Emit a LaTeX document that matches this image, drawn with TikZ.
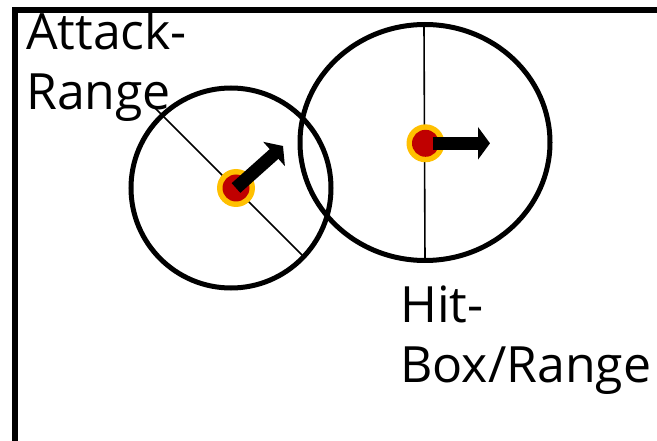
\documentclass[tikz,border=0pt]{standalone}
\usepackage{fontspec}
\setmainfont{Open Sans}
\usetikzlibrary{arrows.meta}
\definecolor{dotred}{HTML}{C00000}
\definecolor{dotring}{HTML}{FFC000}
\begin{document}
\begin{tikzpicture}[x=1pt,y=-1pt,
  framestyle/.style={line width=6pt},
  rangering/.style={line width=5pt},
  diamline/.style={line width=1.6pt},
  facearrow/.style={line width=13pt,-{Triangle[length=12pt,width=32pt]}},
  lblstyle/.style={font=\fontsize{50}{60}\selectfont, align=left, inner sep=0pt, anchor=base west}
]
\useasboundingbox (0,0) rectangle (657,441);
\fill[white] (0,0) rectangle (657,441);
\draw[framestyle] (15,445) -- (15,10) -- (662,10);
% ranges
\coordinate (c1) at (231,188);
\coordinate (c2) at (425,142.5);
\draw[rangering] (c1) circle[radius=100];
\draw[rangering] (c2) ellipse[x radius=125, y radius=118];
% diameters
\coordinate (d1a) at (155,108);
\coordinate (d1b) at (303,256);
\coordinate (d2a) at (424,25);
\coordinate (d2b) at (425,260);
\draw[diamline] (d1a) -- (d1b);
\draw[diamline] (d2a) -- (d2b);
% units
\coordinate (u1) at (236,188);
\coordinate (u2) at (425.5,143.3);
\foreach \u in {u1,u2}{
  \fill[dotring] (\u) circle[radius=19];
  \fill[dotred] (\u) circle[radius=13.5];
}
% facing arrows
\coordinate (t1) at (283,146);
\coordinate (t2) at (490,143.3);
\draw[facearrow] (u1) -- (t1);
\draw[facearrow] ([xshift=7pt]u2) -- (t2);
% labels (base = baseline of last line)
\node[lblstyle] (atk) at (26,110) {Attack-\\Range};
\node[lblstyle] (hit) at (400,382) {Hit-\\Box/Range};
\end{tikzpicture}
\end{document}
